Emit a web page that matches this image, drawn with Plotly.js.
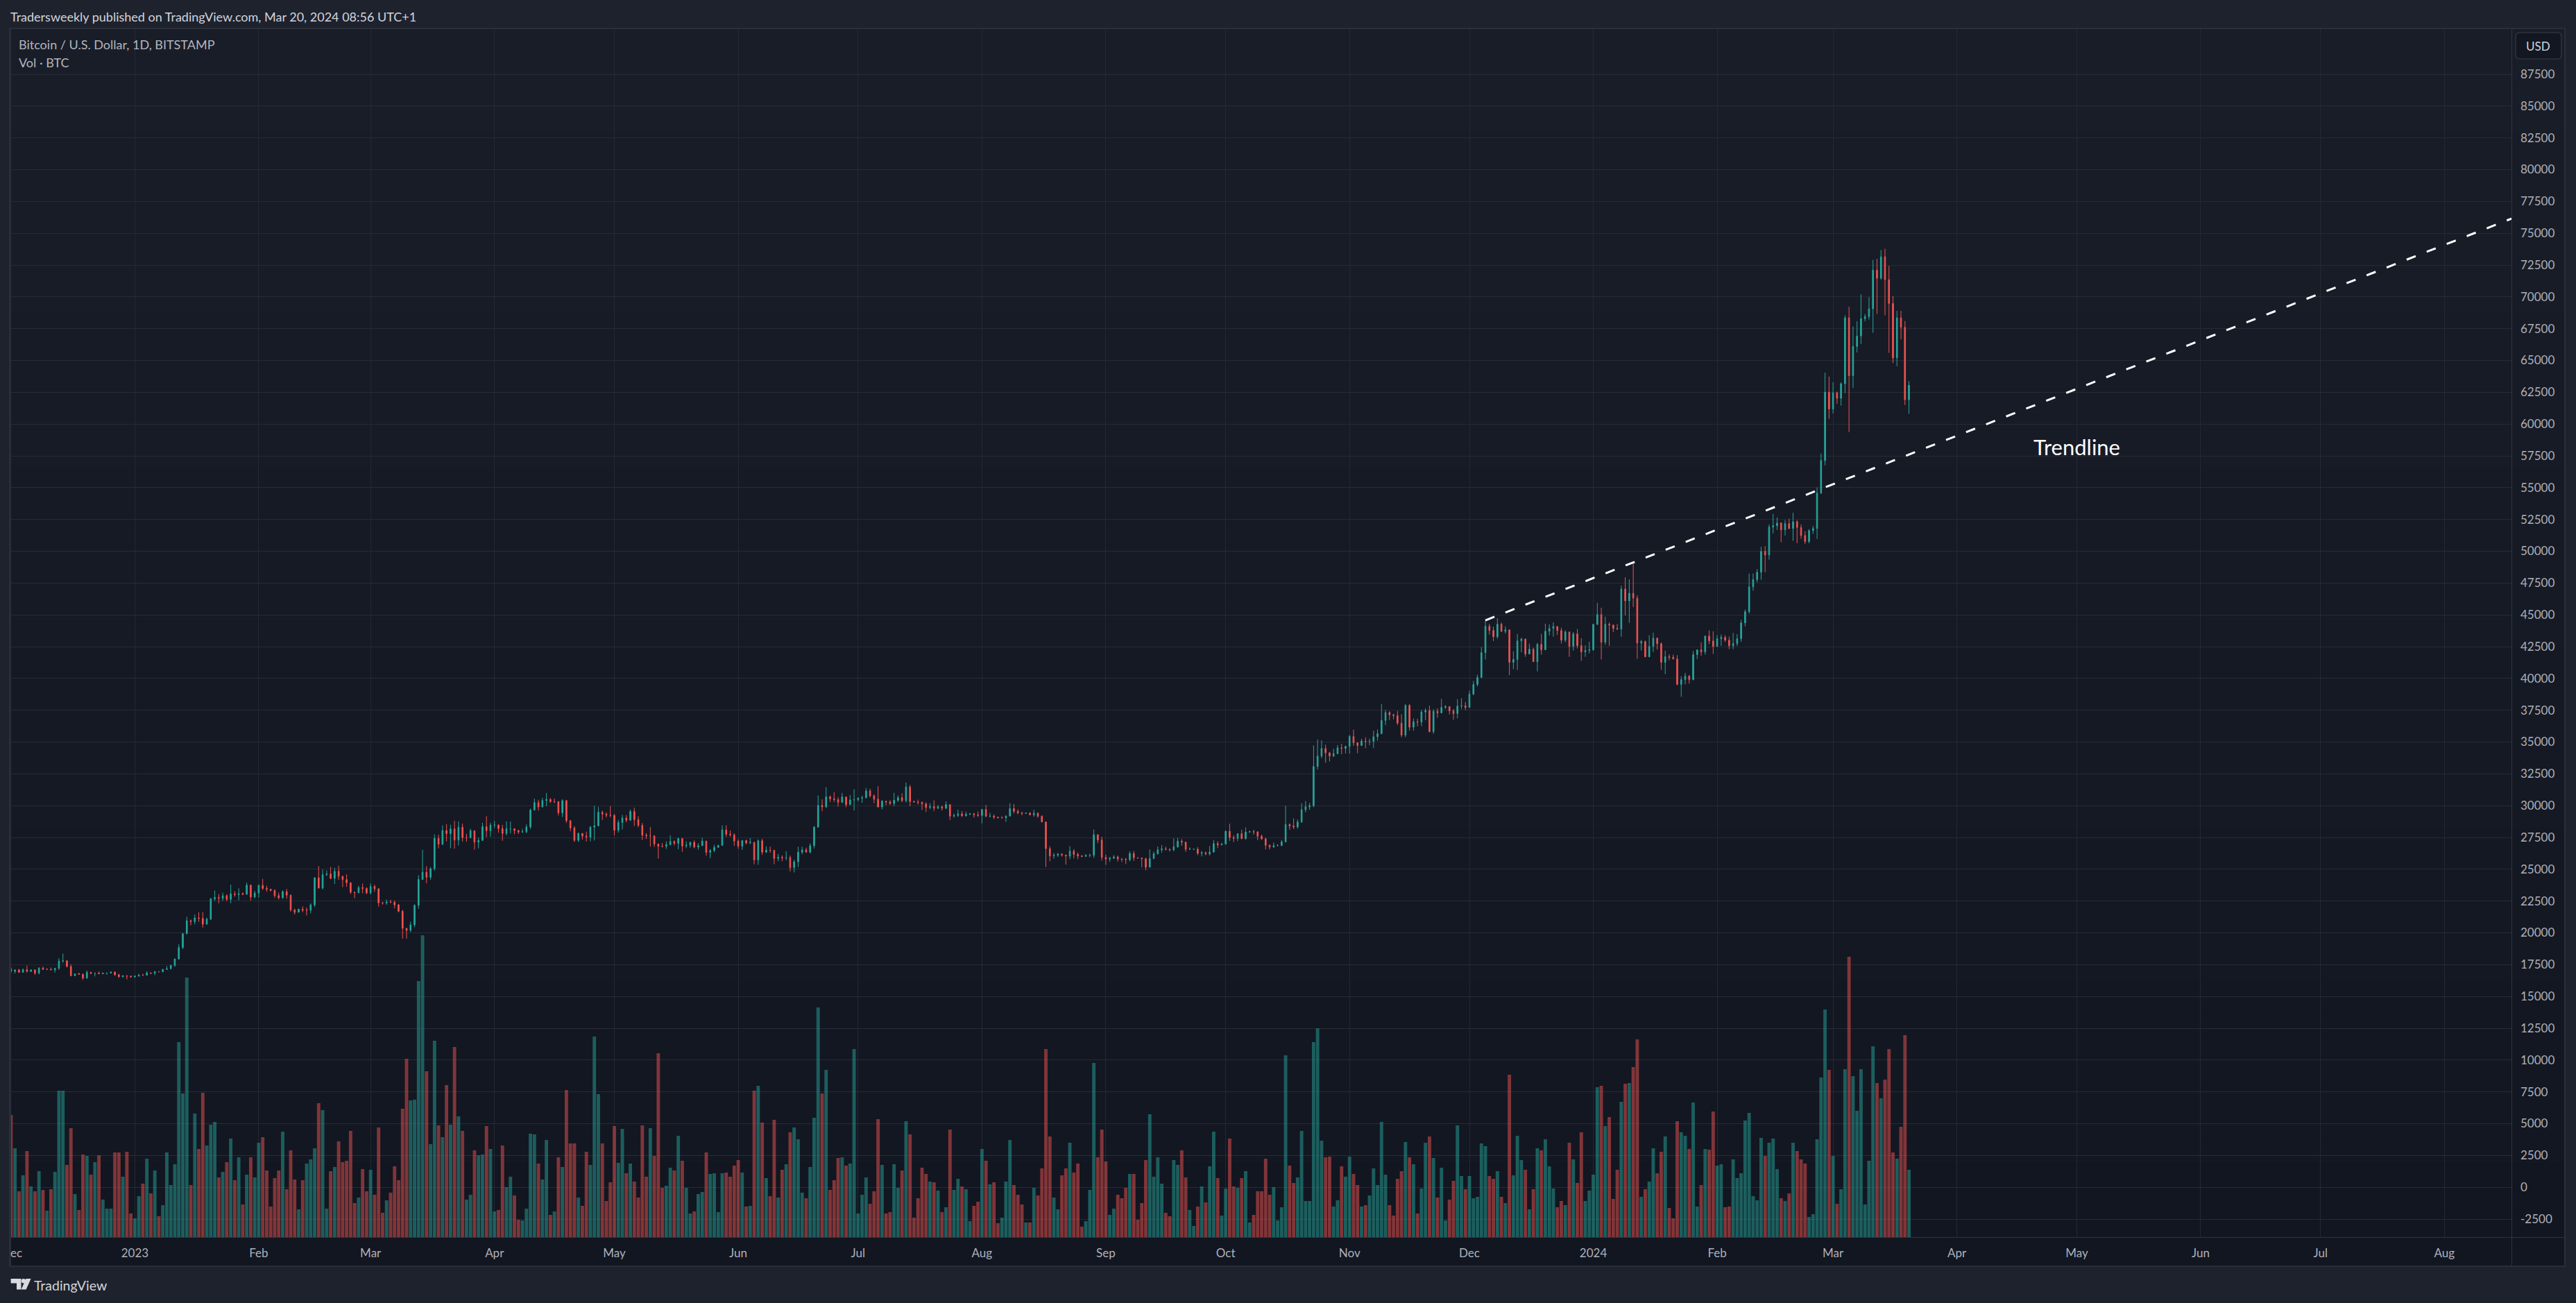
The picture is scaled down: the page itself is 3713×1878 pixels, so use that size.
<!DOCTYPE html>
<html><head><meta charset="utf-8">
<script src="https://cdn.plot.ly/plotly-3.0.1.min.js"></script>
<style>html,body{margin:0;padding:0;background:#1e222d}</style></head>
<body><div id="chart"></div>
<script>
const firstDay = "2022-12-01";
const firstOpen = 17165;
const closes = [
16970,17090,16890,17110,16970,17090,16840,17230,17130,17130,17090,17210,17780,17810,17360,16630,16780,16740,16440,16900,16820,16830,16780,16840,16840,16920,16700,16550,16630,16600,16540,
16610,16680,16670,16850,16830,16950,16940,17120,17180,17440,17940,18850,19930,20960,20880,21180,21140,20680,21080,22670,22780,22710,22920,22630,23060,23010,23080,23030,23750,22820,23130,
23730,23490,23430,23330,22930,22760,23240,22960,21800,21620,21860,21780,21780,22200,24330,23520,24570,24630,24280,24840,24450,24190,23940,23190,23160,23560,23490,23140,
23650,23470,22360,22350,22430,22410,22200,21700,20360,20190,20630,22160,24200,24770,24370,25050,27420,26970,28040,27800,28170,27300,28300,27490,27490,28030,27140,27270,28350,28030,28470,
28470,28200,27810,28180,28180,28050,27920,27950,28330,29650,30240,29900,30400,30490,30320,30320,29440,30400,28820,28250,27270,27820,27600,27520,28310,28420,29480,29340,29250,29240,
28070,28680,29030,28850,29540,28900,28450,27680,27630,27630,26990,26810,26800,26930,27180,27040,27410,26830,26890,27120,26750,26850,27220,26330,26480,26720,26870,28090,27750,27700,27220,
26820,27250,27070,27120,25740,27240,26340,26500,26480,25850,25940,25900,25920,25130,25590,26340,26520,26340,26850,28310,30020,29900,30690,30540,30470,30270,30690,30080,30450,30470,
30590,30620,31160,30770,30510,29900,30350,30290,30170,30420,30630,30390,31470,30320,30290,30250,30140,29860,29920,29800,29910,29800,30080,29180,29230,29350,29210,29320,29350,29280,29230,
29700,29170,29180,29100,29050,29050,29180,29770,29560,29430,29400,29420,29280,29400,29170,28720,26620,26050,26100,26190,26120,26040,26430,26160,26050,26010,26090,26100,27720,27300,25930,
25800,25870,25970,25810,25780,25750,26240,25900,25890,25830,25160,25840,26220,26530,26600,26570,26530,26760,27210,27130,26570,26580,26580,26250,26300,26210,26350,27020,26910,26970,
27990,27500,27430,27790,27410,27930,27960,27940,27590,27390,26880,26750,26860,26860,27150,28510,28400,28320,28720,29680,29910,29990,33080,33900,34500,34150,33910,34090,34540,34500,34660,
35440,34940,34730,35080,35040,35050,35420,35650,36700,37320,37140,37080,36490,35550,37880,36170,36600,36570,37360,37480,35820,37420,37290,37720,37790,37450,37240,37830,37850,37720,
38770,39530,40080,42030,44100,43770,43280,44260,43710,43820,41270,41490,42950,43100,41920,42300,41320,42680,42250,43710,43930,44090,43770,43010,43660,42520,43500,42580,42090,42200,42250,
44260,45020,42850,44260,44200,43930,43880,47030,46100,46700,46320,42790,42900,41700,42520,43170,42730,41270,41710,41660,41530,39530,39910,40180,39910,41870,42250,42090,43330,42950,42520,
43120,43230,43010,42570,42740,43120,44370,45250,47200,47770,48350,49990,49710,51900,52010,52220,51690,52170,51790,52320,51870,51240,50760,51630,51790,54570,57130,62510,61190,
62460,62030,63170,68350,63800,66100,66920,68290,68450,69060,72100,71460,73150,71350,69480,65200,68350,67610,61910,63050];
const highs = [
17320,17100,17160,17200,17430,17110,17130,17300,17350,17220,17270,17250,18000,18370,17850,17530,16800,16870,16800,17040,16900,16870,16960,16870,16870,16970,16960,16780,16670,16640,16640,
16630,16770,16780,16990,16880,16990,16960,17170,17390,17490,17990,19100,19990,21260,21050,21450,21630,21640,21190,22750,23330,23050,23160,23030,23790,23270,23500,23190,23950,23770,23310,
23810,24240,23700,23460,23430,23160,23350,23450,23010,21900,21900,22090,21990,22320,24380,25250,24980,24900,25190,25120,25280,24480,24600,23890,23240,23690,23880,23590,
23880,23780,23480,22420,22620,22600,22550,22270,21800,20370,20880,22260,24530,26530,25250,25170,27750,27720,28450,28540,28500,28810,28760,28600,27790,28190,28030,27490,28650,29170,28650,
28800,28540,28490,28770,28750,28230,28100,28180,28530,29770,30550,30460,30620,31000,30600,30560,30340,30500,30410,28760,28380,27880,27820,27960,28400,30000,29900,29600,29460,29960,
29340,28880,29270,29260,29700,29840,29160,28640,27830,28320,27650,26990,27060,27190,27660,27270,27480,27470,27190,27150,27270,27050,27480,27220,26580,26920,26930,28450,28460,28050,27830,
27350,27300,27330,27450,27130,27350,27390,26800,26790,26530,26200,26090,26420,26070,25750,26770,26770,26700,27040,28400,30800,30500,31450,30800,31060,30660,31000,30700,30840,31290,
30660,30780,31390,31330,30890,31530,30440,30380,30430,31010,30810,30980,31820,31630,30400,30470,30330,30250,30190,30410,30050,29990,30340,30110,29380,29690,29570,29520,29420,29440,29530,
29720,30060,29440,29310,29110,29170,29240,30200,30140,29710,29510,29460,29450,29680,29480,29230,28750,26820,26290,26290,26260,26110,26810,26580,26310,26110,26190,26220,28130,27730,27560,
26150,25980,26120,26070,25880,25890,26410,26430,25930,25890,25890,26560,26390,26790,26900,26770,26630,27420,27480,27370,27160,26720,26620,26740,26430,26390,26830,27300,27210,27080,
28050,28580,27670,27830,28110,28290,28030,28100,27990,27730,27480,26950,27100,26960,27300,30000,28610,28990,28900,30200,30360,30210,34740,35200,35140,34800,34220,34470,34760,34860,34720,
35560,35980,34930,35260,35370,35270,35900,35990,37980,37520,37420,37230,37440,37200,37980,37980,36850,36830,37520,37660,37860,37580,37660,38400,37900,37800,37590,38370,38440,38150,
39040,39800,40300,42470,44530,44290,44080,44730,44400,44080,43820,42140,43500,43200,43120,42730,42410,42790,43500,44310,44250,44410,43890,43990,43780,43660,43650,43880,43170,42600,42890,
44260,45940,45560,44860,44420,44110,44280,47300,47950,47790,49090,46540,43030,42980,43390,43600,43220,42830,42200,41900,41870,41830,40180,40440,40270,42170,42270,42840,43380,43780,43710,
43400,43450,43400,43300,43570,43480,44600,45420,48240,48240,48600,50350,50410,52110,52930,52660,52280,52450,52560,53030,52450,52110,51580,51740,52000,55020,57680,64040,63730,
63280,62550,63280,68560,69220,67660,68080,70200,68660,69980,72900,72990,73680,73790,72440,70060,68900,68900,68100,63380];
const lows = [
16870,16800,16880,16880,16870,16910,16690,16730,17070,17090,17070,16870,17090,17660,17280,16580,16590,16700,16300,16390,16740,16580,16760,16780,16710,16800,16620,16470,16490,16340,16470,
16490,16550,16620,16650,16750,16670,16900,16910,17110,17150,17330,17930,18720,19900,20590,20660,20860,20400,20670,21010,22510,22330,22510,22480,22330,22850,22560,22970,23020,22540,22720,
22770,23370,23230,23260,22750,22620,22660,22680,21670,21450,21600,21620,21370,21530,22040,23480,23410,24470,24220,23850,24160,23590,23630,23050,22720,23100,23110,23040,
23020,23230,22060,22220,22210,22340,21920,21620,19550,19550,20060,20440,21900,24150,23900,24180,24890,26640,26900,27190,26650,26620,26880,27170,27170,27420,26550,26640,27250,27530,27550,
28250,27880,27240,27670,27820,27750,27780,27880,27830,28170,29930,29620,29870,29960,30220,30200,29230,29110,28650,27990,27150,27150,27330,27180,27200,27260,28370,28880,29080,29090,
27660,27880,28130,28690,28810,28400,28300,27300,27380,26780,26760,25840,26720,26600,26880,26870,26580,26380,26670,26690,26650,26540,26830,26060,25870,26340,26710,26870,27550,27560,26840,
26620,26520,26950,26970,25400,25350,26130,26280,26300,25400,25630,25630,25700,24830,24750,25170,26180,26320,26260,26640,28290,29560,29830,30290,30290,29930,30200,29880,30050,29620,
30330,30230,30570,30650,30190,29850,29700,30050,30060,29950,30300,30270,30240,29950,30240,30090,29660,29500,29720,29580,29730,29620,29730,28870,29060,29110,29110,29130,29260,29060,29110,
28600,29100,29070,28950,28980,28990,28730,29140,29390,29320,29250,29360,29240,29120,29050,28690,25180,25640,25830,25970,25990,25370,25790,25850,25800,25960,25980,25940,25900,27050,25680,
25340,25590,25820,25610,25580,25410,25620,25650,25820,25150,24920,25170,25790,26150,26300,26480,26400,26400,26690,26850,26380,26520,26550,26110,26010,26100,26080,26310,26660,26890,
26960,27220,27150,27210,27360,27330,27860,27730,27290,27310,26560,26560,26690,26830,26840,27120,28100,28150,28180,28640,29480,29670,29870,32840,33730,33370,33480,33820,34040,34040,34100,
34090,34700,34120,34700,34520,34750,34530,35110,35650,36330,36730,36790,36340,35380,35370,35900,35880,36230,36250,36720,35760,35650,36900,37620,37610,37170,36750,36870,37600,37520,
37700,38680,39370,40020,41490,43440,42940,43120,43650,43530,40260,40730,40670,42050,41700,41920,41320,40560,41870,42250,43380,43290,43420,42750,42850,41700,42190,42360,41380,41700,41970,
42180,44200,41490,42650,42570,43640,43820,43280,44960,44370,45620,41540,42200,41700,41700,42090,42270,40680,40350,41430,41570,39470,38560,39530,39600,39850,41520,41780,41870,42690,41930,
42800,42560,42880,42300,42300,42550,42870,44100,45100,46900,47550,47760,48350,49340,51400,51680,50710,51240,51740,50820,50630,50980,50580,50630,51370,50970,54510,56760,60400,
60820,61600,61450,62430,59370,62850,65630,66290,68080,68210,67180,68660,71350,68560,65600,64800,64550,66660,61500,60800];
const volumes = [
176,128,66,89,124,73,66,95,68,38,69,94,211,211,104,157,62,39,119,117,90,108,118,54,41,41,122,122,87,123,34,
27,59,77,113,63,96,30,46,122,75,105,281,207,374,75,178,127,208,132,162,166,86,94,108,142,82,115,47,90,115,86,
136,144,96,44,85,96,152,69,125,83,40,82,106,112,128,193,183,41,95,101,138,108,110,153,49,57,98,66,
97,61,158,35,53,64,102,82,185,257,197,198,369,435,239,134,283,161,144,219,162,274,174,153,54,61,125,118,119,160,127,
37,39,132,72,87,60,25,24,41,149,148,106,83,140,32,37,115,101,212,135,135,57,45,123,104,289,206,135,52,79,
160,107,156,92,106,80,57,161,87,157,117,265,71,74,100,96,146,110,71,34,37,62,65,122,91,92,36,92,93,87,103,
111,93,44,45,211,218,165,85,59,169,57,97,105,151,158,141,64,56,101,172,331,207,241,68,82,114,115,103,106,271,
34,61,86,48,66,170,104,34,36,105,71,96,167,148,28,56,100,91,80,79,67,36,43,155,68,84,73,69,23,45,51,
127,110,76,79,20,28,80,140,75,61,47,21,21,71,60,99,271,145,57,40,89,99,136,93,106,15,23,68,251,115,155,
109,32,41,61,56,71,91,91,25,49,111,177,87,115,77,35,30,111,104,125,86,39,16,44,73,50,102,152,85,31,
70,142,73,71,85,95,21,32,66,66,113,61,72,24,43,262,103,78,86,153,52,52,281,301,139,115,116,44,53,102,87,
116,91,75,44,46,60,99,75,166,90,46,31,84,95,137,115,105,34,70,136,145,114,57,100,24,54,81,161,88,69,
88,56,58,135,131,88,84,95,58,49,234,89,146,111,97,40,69,128,125,141,102,70,43,52,46,136,112,78,151,52,67,
90,216,218,160,173,55,97,195,221,222,245,285,58,69,80,128,92,123,145,42,27,167,151,146,127,194,44,75,127,126,181,
103,105,43,44,112,85,92,168,179,59,53,143,117,136,142,98,56,52,63,136,124,112,106,29,33,141,230,328,241,
117,48,69,242,404,232,182,242,47,110,275,222,200,227,271,122,113,159,291,97];
const monthTicks = ["2023-01-01","2023-02-01","2023-03-01","2023-04-01","2023-05-01","2023-06-01","2023-07-01","2023-08-01","2023-09-01","2023-10-01","2023-11-01","2023-12-01","2024-01-01","2024-02-01","2024-03-01","2024-04-01","2024-05-01","2024-06-01","2024-07-01","2024-08-01"];
const monthLabels = ["2023","Feb","Mar","Apr","May","Jun","Jul","Aug","Sep","Oct","Nov","Dec","2024","Feb","Mar","Apr","May","Jun","Jul","Aug"];
const priceTicks = [-2500,0,2500,5000,7500,10000,12500,15000,17500,20000,22500,25000,27500,30000,32500,35000,37500,40000,42500,45000,47500,50000,52500,55000,57500,60000,62500,65000,67500,70000,72500,75000,77500,80000,82500,85000,87500];
const trendDates = ["2023-12-05","2024-08-17 19:00"];
const trendPrices = [44570,76150];

const UP="#26a69a", DOWN="#ef5350";
const FONT="Lato, 'Liberation Sans', sans-serif";
const W=3713,H=1878, L=16,R=3620,T=42,B=1783;
const xp=p=>(p-L)/(R-L), yp=p=>(B-p)/(B-T);

const dates=closes.map((_,i)=>{const d=new Date(Date.parse(firstDay+"T00:00:00Z")+i*864e5);return d.toISOString().slice(0,10);});
const opens=closes.map((_,i)=>i?closes[i-1]:firstOpen);

const shapes=[];
function rect(x0,y0,x1,y1,fill,line){shapes.push({type:"rect",xref:"paper",yref:"paper",x0:xp(x0),x1:xp(x1),y0:yp(y0),y1:yp(y1),fillcolor:fill,line:{width:line?1:0,color:line||"rgba(0,0,0,0)"},layer:"below"});}
// pane background gradient
const N=48, c0=[25,29,40], c1=[18,22,33];
for(let i=0;i<N;i++){const t=i/(N-1);const c=c0.map((a,k)=>Math.round(a+(c1[k]-a)*t));
  rect(15,41+(1825-41)*i/N,3697,41+(1825-41)*(i+1)/N+1,`rgb(${c})`);}
// frame and separators
const edge="#2a2e39";
rect(13,41,16,1826,edge); rect(13,40,3698,42,edge); rect(3696,40,3698,1826,edge); rect(13,1824,3698,1826,edge);
rect(3620,42,3621,1825,"#30343f"); rect(16,1783,3697,1784,"#30343f");
// USD button
function roundPath(x0,y0,x1,y1,r){const X=xp,Y=yp;
 return `M${X(x0+r)},${Y(y0)} L${X(x1-r)},${Y(y0)} Q${X(x1)},${Y(y0)} ${X(x1)},${Y(y0+r)} L${X(x1)},${Y(y1-r)} Q${X(x1)},${Y(y1)} ${X(x1-r)},${Y(y1)} L${X(x0+r)},${Y(y1)} Q${X(x0)},${Y(y1)} ${X(x0)},${Y(y1-r)} L${X(x0)},${Y(y0+r)} Q${X(x0)},${Y(y0)} ${X(x0+r)},${Y(y0)} Z`;}
shapes.push({type:"path",xref:"paper",yref:"paper",path:roundPath(3626,47,3692,85,6),fillcolor:"#131722",line:{color:"#2f333e",width:1.5},layer:"below"});
// TradingView mark
const logo=(pts,fill)=>shapes.push({type:"path",xref:"paper",yref:"paper",path:"M"+pts.map(p=>xp(p[0])+","+yp(p[1])).join(" L")+" Z",fillcolor:fill,line:{width:0},layer:"below"});
logo([[15.6,1843],[30.5,1843],[30.5,1858.5],[24,1858.5],[24,1849.5],[15.6,1849.5]],"#d8dae0");
shapes.push({type:"circle",xref:"paper",yref:"paper",x0:xp(30.8),x1:xp(37.2),y0:yp(1849.4),y1:yp(1843),fillcolor:"#d8dae0",line:{width:0},layer:"below"});
logo([[37.5,1843],[44.6,1843],[37.6,1858.5],[30.6,1858.5]],"#d8dae0");

const note=(txt,px,py,size,color,anchor,font)=>({text:txt,xref:"paper",yref:"paper",x:xp(px),y:yp(py),xanchor:anchor||"left",yanchor:"middle",showarrow:false,font:{family:font||FONT,size,color}});
const annotations=[
 note("Tradersweekly published on TradingView.com, Mar 20, 2024 08:56 UTC+1",13,23.5,18,"#d1d4dc"),
 note("Bitcoin / U.S. Dollar, 1D, BITSTAMP",25,63.5,18,"#b2b5be"),
 note("Vol · BTC",25,90,18,"#b2b5be"),
 note("USD",3659,66,17,"#d1d4dc","center"),
 note("ec",13,1805,17,"#aeb1ba"),
 note("TradingView",47,1852,19.5,"#d1d4dc"),
 {text:"Trendline",x:"2024-05-01",y:58200,xref:"x",yref:"y",xanchor:"center",yanchor:"middle",showarrow:false,font:{family:FONT,size:31,color:"#ffffff"}}
];

const data=[
 {type:"bar",x:dates,y:volumes,yaxis:"y2",xaxis:"x",name:"Vol",
  marker:{color:closes.map((c,i)=>c>=opens[i]?"rgba(38,166,154,0.5)":"rgba(239,83,80,0.5)"),line:{width:0}},hoverinfo:"skip",showlegend:false},
 {type:"candlestick",x:dates,open:opens,high:highs,low:lows,close:closes,yaxis:"y",xaxis:"x",name:"BTCUSD",
  increasing:{line:{color:UP,width:1},fillcolor:UP},decreasing:{line:{color:DOWN,width:1},fillcolor:DOWN},whiskerwidth:0,hoverinfo:"skip",showlegend:false},
 {type:"scatter",mode:"lines",x:trendDates,y:trendPrices,yaxis:"y",xaxis:"x",name:"Trendline",
  line:{color:"#ffffff",width:3,dash:"14px,17px"},hoverinfo:"skip",showlegend:false}
];
const layout={width:W,height:H,margin:{l:L,r:W-R,t:T,b:H-B,pad:0},
 paper_bgcolor:"#1e222d",plot_bgcolor:"rgba(0,0,0,0)",showlegend:false,hovermode:false,
 bargap:0.15,boxgap:0.6,boxmode:"overlay",
 xaxis:{type:"date",range:["2022-12-01 00:40","2024-08-17 19:00"],rangeslider:{visible:false},tickmode:"array",tickvals:monthTicks,ticktext:monthLabels,
  showgrid:true,gridcolor:"#242833",gridwidth:1,zeroline:false,showline:false,ticks:"",ticklabelstandoff:11,tickfont:{family:FONT,size:17,color:"#aeb1ba"}},
 yaxis:{side:"right",range:[-3918,91048],tickmode:"array",tickvals:priceTicks,ticktext:priceTicks.map(String),
  showgrid:true,gridcolor:"#272b36",gridwidth:1,zeroline:false,showline:false,ticks:"",ticklabelstandoff:12,tickfont:{family:FONT,size:17,color:"#aeb1ba"}},
 yaxis2:{overlaying:"y",side:"right",range:[0,B-T],showgrid:false,zeroline:false,showticklabels:false,ticks:"",showline:false},
 shapes,annotations};
Plotly.newPlot("chart",data,layout,{displayModeBar:false,staticPlot:true});
</script></body></html>
